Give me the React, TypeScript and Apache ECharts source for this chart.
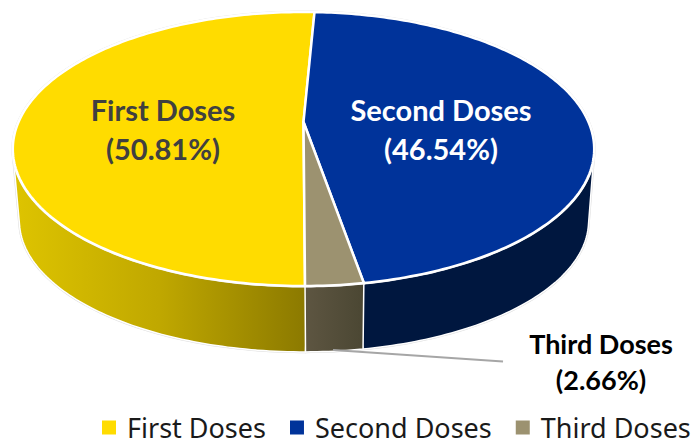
import React, { useEffect, useRef } from "react";
import * as echarts from "echarts";

const doseNames = ["First Doses", "Second Doses", "Third Doses"];
const doseValues = [50.81, 46.54, 2.66];
const topColors = ["#FFDC00", "#00339A", "#9C9270"];
const legendTextColor = "#1a1a1a";

const ROTATION = 2.65; // clockwise degrees where the Second Doses slice begins
const TOP = { cx: 303.5, cy: 122, a: 285, b: 131.7, k: 0.197 };
const BOTTOM = { cx: 304, cy: 195, a: 279, b: 126, k: 0.197 };

const total = doseValues.reduce((s, v) => s + v, 0);
const deg = (v: number) => (v / total) * 360;
const startAngles = [
  ROTATION - deg(doseValues[0]),
  ROTATION,
  ROTATION + deg(doseValues[1]),
];

function project(p: typeof TOP, angleDeg: number): number[] {
  const t = (angleDeg * Math.PI) / 180;
  const u = Math.sin(t);
  const v = -Math.cos(t);
  const den = 1 - p.k * v;
  return [p.cx + (p.a * u) / den, p.cy + (p.b * v) / den];
}

function arc(p: typeof TOP, from: number, sweep: number): number[][] {
  const pts: number[][] = [];
  const n = Math.max(8, Math.round(sweep));
  for (let i = 0; i <= n; i++) pts.push(project(p, from + (sweep * i) / n));
  return pts;
}

// The side wall's silhouette is the convex hull of the upper and lower rim arcs.
function hull(points: number[][]): number[][] {
  const pts = points.slice().sort((a, b) => a[0] - b[0] || a[1] - b[1]);
  const cross = (o: number[], a: number[], b: number[]) =>
    (a[0] - o[0]) * (b[1] - o[1]) - (a[1] - o[1]) * (b[0] - o[0]);
  const build = (list: number[][]) => {
    const out: number[][] = [];
    for (const p of list) {
      while (out.length >= 2 && cross(out[out.length - 2], out[out.length - 1], p) <= 0) out.pop();
      out.push(p);
    }
    out.pop();
    return out;
  };
  return build(pts).concat(build(pts.slice().reverse()));
}

const wallFill = (i: number) => {
  if (i === 0)
    return new echarts.graphic.LinearGradient(
      13, 0, 304, 0,
      [
        { offset: 0, color: "#DEC400" },
        { offset: 0.5, color: "#C0A800" },
        { offset: 1, color: "#8C7A00" },
      ],
      true
    );
  if (i === 1) return "#00173F";
  return new echarts.graphic.LinearGradient(
    304, 0, 366, 0,
    [
      { offset: 0, color: "#5E5642" },
      { offset: 1, color: "#4A4632" },
    ],
    true
  );
};

const labelStyles = [
  { x: 163, y: 129, size: 29, color: "#404040", lh: 39 },
  { x: 441, y: 129, size: 29, color: "#FFFFFF", lh: 39 },
  { x: 601, y: 361, size: 27, color: "#000000", lh: 36 },
];

const renderSlice = (i: number) => (_params: any, api: any) => {
  const value = api.value(0);
  const sweep = deg(value);
  const from = startAngles[i];
  const topArc = arc(TOP, from, sweep);
  const botArc = arc(BOTTOM, from, sweep);
  const wall = hull(topArc.concat(botArc));
  const top = [[TOP.cx, TOP.cy], ...topArc];
  const ls = labelStyles[i];
  const children: any[] = [
    {
      type: "polygon",
      z2: 1,
      shape: { points: wall },
      style: { fill: "none", stroke: "#DDDDDD", lineWidth: 2.5, lineJoin: "round" },
    },
    {
      type: "polygon",
      z2: 2,
      shape: { points: wall },
      style: { fill: wallFill(i), stroke: "#FFFFFF", lineWidth: 1.5, lineJoin: "round" },
    },
    {
      type: "polygon",
      z2: 3,
      shape: { points: top },
      style: { fill: "none", stroke: "#ECECEC", lineWidth: 3, lineJoin: "round" },
    },
    {
      type: "polygon",
      z2: 4 + (i === 2 ? 1 : 0),
      shape: { points: top },
      style: { fill: topColors[i], stroke: "#FFFFFF", lineWidth: 2.5, lineJoin: "round" },
    },
    {
      type: "text",
      z2: 20,
      style: {
        x: ls.x,
        y: ls.y,
        text: `${doseNames[i]}\n(${value.toFixed(2)}%)`,
        fill: ls.color,
        font: `bold ${ls.size}px Lato`,
        lineHeight: ls.lh,
        align: "center",
        verticalAlign: "middle",
      },
    },
  ];
  if (i === 2) {
    children.push({
      type: "line",
      z2: 10,
      shape: { x1: 333, y1: 350, x2: 503, y2: 361.5 },
      style: { stroke: "#A6A6A6", lineWidth: 2 },
    });
  }
  return { type: "group", children };
};

export default function App() {
  const ref = useRef<HTMLDivElement>(null);
  useEffect(() => {
    const chart = echarts.init(ref.current!, undefined, { renderer: "svg" });
    chart.setOption({
      animation: false,
      backgroundColor: "#FFFFFF",
      legend: {
        data: doseNames,
        left: 97,
        top: 409,
        width: 597,
        itemWidth: 14,
        itemHeight: 14,
        itemGap: 24,
        padding: [5, 0, 0, 5],
        icon: "rect",
        selectedMode: false,
        textStyle: { fontFamily: "Noto Sans", fontSize: 27, lineHeight: 22, color: legendTextColor, padding: [0, 0, 0, 6] },
      },
      series: doseNames.map((name, i) => ({
        type: "custom",
        name,
        coordinateSystem: "none",
        silent: true,
        itemStyle: { color: topColors[i] },
        data: [[doseValues[i]]],
        renderItem: renderSlice(i),
      })),
    });
    return () => chart.dispose();
  }, []);
  return <div ref={ref} style={{ position: "fixed", left: 0, top: 0, width: 694, height: 439 }} />;
}
